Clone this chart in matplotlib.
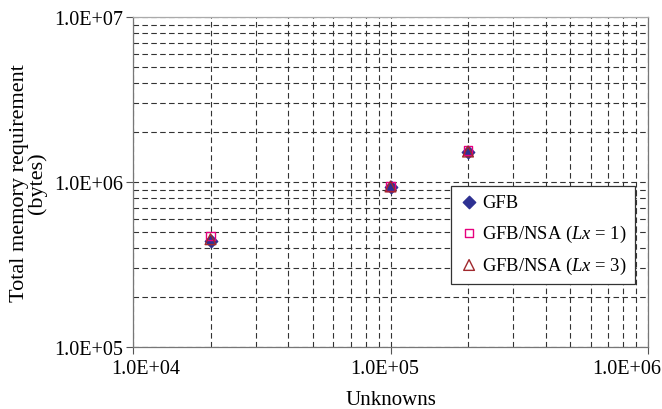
import matplotlib
matplotlib.use('Agg')
import matplotlib.pyplot as plt
from matplotlib.ticker import LogLocator, FuncFormatter, NullFormatter

plt.rcParams['font.family'] = ['Liberation Serif', 'DejaVu Serif']
plt.rcParams['mathtext.fontset'] = 'custom'
plt.rcParams['mathtext.it'] = 'Liberation Serif:italic'
plt.rcParams['mathtext.rm'] = 'Liberation Serif'

# data
unknowns = [2.0e4, 1.0e5, 2.0e5]
mem_gfb = [4.4e5, 9.3e5, 1.52e6]
mem_nsa1 = [4.7e5, 9.4e5, 1.55e6]
mem_nsa3 = [4.5e5, 9.4e5, 1.53e6]
xticks = [1e4, 1e5, 1e6]

fig = plt.figure(figsize=(6.62, 4.10), dpi=100)
ax = fig.add_axes([133/662, 1-348/410, (648-133)/662, (348-18)/410])
ax.set_xscale('log')
ax.set_yscale('log')
ax.set_xlim(1e4, 1e6)
ax.set_ylim(1e5, 1e7)

ax.scatter(unknowns, mem_gfb, marker='D', s=40, color='#2E3192', label='GFB', zorder=3)
ax.scatter(unknowns, mem_nsa1, marker='s', s=36, facecolors='none', edgecolors='#E6007E',
           linewidths=1.0, label='GFB/NSA ($\\mathit{Lx}$ = 1)', zorder=4)
ax.scatter(unknowns, mem_nsa3, marker='^', s=60, facecolors='none', edgecolors='#A0282D',
           linewidths=1.0, label='GFB/NSA ($\\mathit{Lx}$ = 3)', zorder=5)

fmt = FuncFormatter(lambda v, p: '%.1E' % v)
for axis in (ax.xaxis, ax.yaxis):
    axis.set_major_locator(LogLocator(base=10))
    axis.set_minor_locator(LogLocator(base=10, subs=range(2, 10)))
    axis.set_minor_formatter(NullFormatter())
ax.yaxis.set_major_formatter(fmt)
ax.xaxis.set_major_formatter(NullFormatter())

# x tick labels: in the original they sit a little off their ticks
shifts = [9, -4.5, -15]
for v, dx in zip(xticks, shifts):
    ax.annotate(fmt(v, None), xy=(v, 0), xycoords=('data', 'axes fraction'),
                xytext=(dx, -9), textcoords='offset points', ha='center', va='top',
                fontsize=14.5)

ax.grid(True, which='both', linestyle=(0, (5, 3)), color='#333333', linewidth=0.8)
ax.tick_params(which='major', direction='out', length=5, width=0.8, color='#555555',
               labelsize=14.5, pad=2)
ax.tick_params(which='minor', length=0)

for s in ax.spines.values():
    s.set_color('#777777')
    s.set_linewidth(0.9)
ax.spines['top'].set_color('#aaaaaa')

ax.set_xlabel('Unknowns', fontsize=15, labelpad=24)
ax.set_ylabel('Total memory requirement\n(bytes)', fontsize=16, labelpad=5, linespacing=0.9)

leg = ax.legend(loc='lower right', bbox_to_anchor=(0.975, 0.19), fontsize=13.4, frameon=True,
                fancybox=False, edgecolor='#333333', framealpha=1, handletextpad=0.2,
                borderpad=0.45, labelspacing=0.6, handlelength=1.0, borderaxespad=0)
leg.get_frame().set_linewidth(0.9)

fig.savefig('out.png', dpi=100)
